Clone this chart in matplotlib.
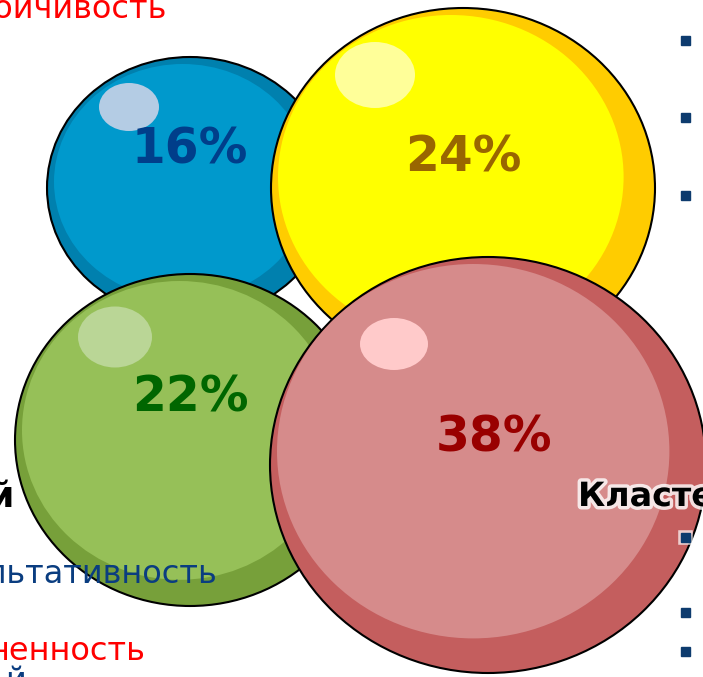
import matplotlib
matplotlib.use('Agg')
import matplotlib.pyplot as plt
from matplotlib.patches import Ellipse, Rectangle
import matplotlib.patheffects as pe

# bubble data
labels = ['16%', '24%', '22%', '38%']
values = [16, 24, 22, 38]
rim_colors = ['#0080AE', '#FFCC00', '#77A03A', '#C45E5E']
fill_colors = ['#0099CC', '#FFFF00', '#96C058', '#D68B8B']
shine_colors = ['#B4CCE4', '#FFFF99', '#BAD696', '#FFCACA']
text_colors = ['#003E8A', '#996600', '#006600', '#990000']

# layout (pixel units of the slide crop)
centers = [(190, 188), (463, 188), (190, 440), (488, 465)]
radii = [(143, 131), (192, 180), (175, 166), (218, 208)]
shines = [(129, 107, 60, 48), (375, 75, 80, 66), (115, 337, 74, 61), (394, 344, 68, 52)]
label_pos = [(190, 150), (463, 158), (190, 397), (494, 437)]

# cut-off slide text around the bubbles
side_texts = ['устойчивость', 'й', 'результативность', 'ненность']
side_colors = ['#FF0000', '#000000', '#0A3D80', '#FF0000']
side_xy = [(166, 18), (13, 507), (217, 583), (145, 660)]
side_bold = [False, True, False, False]
side_size = [23, 25, 23, 23]
bullet_y = [40, 117, 195, 537, 612, 651]

fig = plt.figure(figsize=(7.03, 6.77), dpi=100)
ax = fig.add_axes([0, 0, 1, 1])
ax.set_xlim(0, 703)
ax.set_ylim(677, 0)
ax.axis('off')

for t, c, (x, y), b, s in zip(side_texts, side_colors, side_xy, side_bold, side_size):
    ax.text(x, y, t, color=c, fontsize=s, ha='right', va='baseline',
            fontweight='bold' if b else 'normal', zorder=30)
ax.text(15, 690, 'й', color='#0A3D80', fontsize=23, ha='center', va='baseline', zorder=30)

for by in bullet_y:
    ax.add_patch(Rectangle((681, by - 4.5), 9, 9, color='#0D3B6E', zorder=1))

for i in range(len(values)):
    cx, cy = centers[i]
    rx, ry = radii[i]
    z = 2 + i * 3
    ax.add_patch(Ellipse((cx, cy), 2 * rx, 2 * ry, facecolor=rim_colors[i],
                         edgecolor='black', lw=1.5, zorder=z))
    irx, iry = rx * 0.9, ry * 0.9
    ox, oy = rx - irx - 7, ry - iry - 7
    ax.add_patch(Ellipse((cx - ox, cy - oy), 2 * irx, 2 * iry,
                         facecolor=fill_colors[i], edgecolor='none', zorder=z + 0.5))
    sx, sy, sw, sh = shines[i]
    ax.add_patch(Ellipse((sx, sy), sw, sh, facecolor=shine_colors[i],
                         edgecolor='none', zorder=z + 1))
    lx, ly = label_pos[i]
    ax.text(lx, ly, labels[i], color=text_colors[i], fontsize=35,
            fontweight='bold', ha='center', va='center', zorder=z + 1)

ax.text(578, 506, 'Кластеры', color='black', fontsize=24, fontweight='bold',
        ha='left', va='baseline', zorder=20,
        path_effects=[pe.withStroke(linewidth=5, foreground='white', alpha=0.8)])
ax.add_patch(Rectangle((681, 537 - 4.5), 9, 9, color='#0D3B6E', zorder=20,
                       path_effects=[pe.withStroke(linewidth=4, foreground='white', alpha=0.7)]))

fig.savefig('out.png', dpi=100)
